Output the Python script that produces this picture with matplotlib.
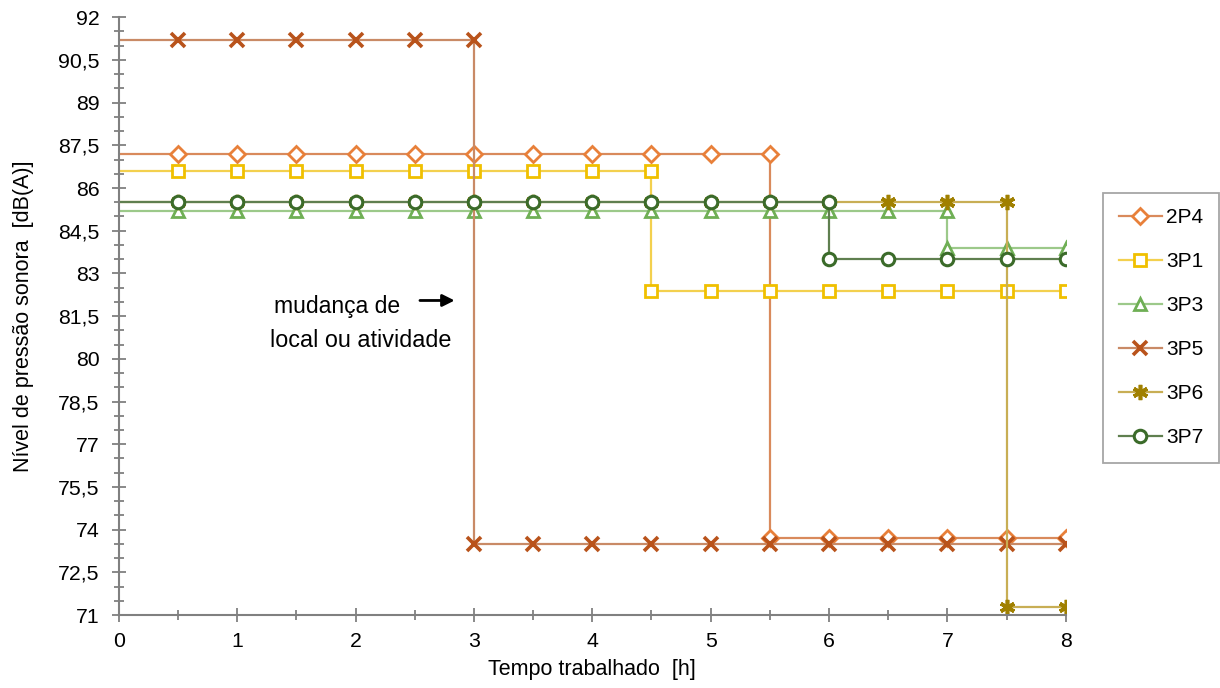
import numpy as np
import matplotlib
matplotlib.use('Agg')
import matplotlib.pyplot as plt
from matplotlib.ticker import MultipleLocator, FixedLocator, FuncFormatter

plt.rcParams['font.family'] = ['Liberation Sans', 'DejaVu Sans']

# time [h] and level [dB(A)] per series (duplicated x where the level changes)
t_2p4 = [0, 0.5, 1, 1.5, 2, 2.5, 3, 3.5, 4, 4.5, 5, 5.5, 5.5, 6, 6.5, 7, 7.5, 8]
y_2p4 = [87.2, 87.2, 87.2, 87.2, 87.2, 87.2, 87.2, 87.2, 87.2, 87.2, 87.2, 87.2,
         73.7, 73.7, 73.7, 73.7, 73.7, 73.7]

t_3p1 = [0, 0.5, 1, 1.5, 2, 2.5, 3, 3.5, 4, 4.5, 4.5, 5, 5.5, 6, 6.5, 7, 7.5, 8]
y_3p1 = [86.6, 86.6, 86.6, 86.6, 86.6, 86.6, 86.6, 86.6, 86.6, 86.6,
         82.4, 82.4, 82.4, 82.4, 82.4, 82.4, 82.4, 82.4]

t_3p3 = [0, 0.5, 1, 1.5, 2, 2.5, 3, 3.5, 4, 4.5, 5, 5.5, 6, 6.5, 7, 7, 7.5, 8]
y_3p3 = [85.2, 85.2, 85.2, 85.2, 85.2, 85.2, 85.2, 85.2, 85.2, 85.2, 85.2, 85.2,
         85.2, 85.2, 85.2, 83.9, 83.9, 83.9]

t_3p5 = [0, 0.5, 1, 1.5, 2, 2.5, 3, 3, 3.5, 4, 4.5, 5, 5.5, 6, 6.5, 7, 7.5, 8]
y_3p5 = [91.2, 91.2, 91.2, 91.2, 91.2, 91.2, 91.2, 73.5, 73.5, 73.5, 73.5, 73.5,
         73.5, 73.5, 73.5, 73.5, 73.5, 73.5]

t_3p6 = [0, 0.5, 1, 1.5, 2, 2.5, 3, 3.5, 4, 4.5, 5, 5.5, 6, 6.5, 7, 7.5, 7.5, 8]
y_3p6 = [85.5, 85.5, 85.5, 85.5, 85.5, 85.5, 85.5, 85.5, 85.5, 85.5, 85.5, 85.5,
         85.5, 85.5, 85.5, 85.5, 71.3, 71.3]

t_3p7 = [0, 0.5, 1, 1.5, 2, 2.5, 3, 3.5, 4, 4.5, 5, 5.5, 6, 6, 6.5, 7, 7.5, 8]
y_3p7 = [85.5, 85.5, 85.5, 85.5, 85.5, 85.5, 85.5, 85.5, 85.5, 85.5, 85.5, 85.5,
         85.5, 83.5, 83.5, 83.5, 83.5, 83.5]

y_ticks = [71, 72.5, 74, 75.5, 77, 78.5, 80, 81.5, 83, 84.5, 86, 87.5, 89, 90.5, 92]

# name, x, y, marker, line colour, marker colour, marker size, edge width
series = [
    ('2P4', t_2p4, y_2p4, 'D', '#D98A5C', '#E8803A', 8.3, 2),
    ('3P1', t_3p1, y_3p1, 's', '#F3D04E', '#F0C000', 9, 2),
    ('3P3', t_3p3, y_3p3, '^', '#9CC98A', '#6FAF55', 8.5, 2),
    ('3P5', t_3p5, y_3p5, 'x', '#C98A66', '#B9531B', 10, 2.6),
    ('3P6', t_3p6, y_3p6, (6, 2, 0), '#C8AE55', '#A08000', 11, 2.6),
    ('3P7', t_3p7, y_3p7, 'o', '#5F7F4F', '#3B6B2A', 9, 2.2),
]

fig = plt.figure(figsize=(12.2, 6.88), dpi=100)
ax = fig.add_axes([0.0975, 0.106, 0.776, 0.869])

for name, t, y, mk, lc, mc, ms, mew in series:
    ax.plot(t, y, color=lc, lw=1.6, marker=mk, markersize=ms,
            markeredgecolor=mc, markerfacecolor='white', markeredgewidth=mew,
            markevery=list(range(1, len(t))), label=name)

ax.set_xlim(0, 8)
ax.set_ylim(71, 92)
ax.xaxis.set_major_locator(MultipleLocator(1))
ax.xaxis.set_minor_locator(MultipleLocator(0.5))
ax.yaxis.set_major_locator(FixedLocator(y_ticks))
ax.yaxis.set_minor_locator(MultipleLocator(0.5))
ax.yaxis.set_major_formatter(FuncFormatter(lambda v, p: ('%g' % v).replace('.', ',')))

for s in ['top', 'right']:
    ax.spines[s].set_visible(False)
for s in ['left', 'bottom']:
    ax.spines[s].set_color('#808080')
    ax.spines[s].set_linewidth(1.5)
ax.tick_params(which='major', direction='inout', length=10, width=1.3,
               color='#808080', labelsize=15.3, pad=7)
ax.tick_params(axis='y', which='major', pad=9)
ax.tick_params(which='minor', direction='inout', length=7, width=1.3, color='#808080')

ax.set_xlabel('Tempo trabalhado  [h]', fontsize=15.5, labelpad=6)
ax.set_ylabel('Nível de pressão sonora  [dB(A)]', fontsize=15.5, labelpad=17)

ax.text(1.31, 81.85, 'mudança de', fontsize=16.5, ha='left', va='center')
ax.text(1.28, 80.65, 'local ou atividade', fontsize=16.8, ha='left', va='center')
ax.annotate('', xy=(2.86, 82.05), xytext=(2.52, 82.05),
            arrowprops=dict(arrowstyle='-|>', color='black', lw=2, mutation_scale=18))

leg = fig.legend(loc='upper left', bbox_to_anchor=(0.904, 0.72), fontsize=15,
                 frameon=True, fancybox=False, edgecolor='#909090',
                 handlelength=2.1, handletextpad=0.2, labelspacing=1.2,
                 borderpad=0.75, borderaxespad=0)
leg.get_frame().set_linewidth(1.3)

fig.savefig('out.png', dpi=100)
